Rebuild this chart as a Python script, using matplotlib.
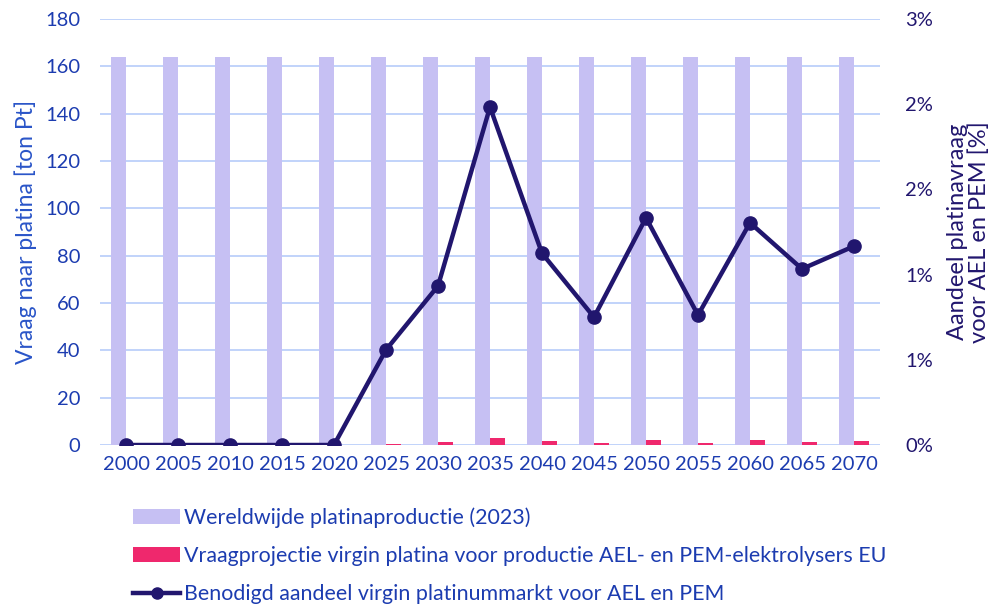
import matplotlib
matplotlib.use("Agg")
import matplotlib.pyplot as plt
import numpy as np
from matplotlib.ticker import FuncFormatter

years = ["2000", "2005", "2010", "2015", "2020", "2025", "2030", "2035",
         "2040", "2045", "2050", "2055", "2060", "2065", "2070"]
world_production = [164] * 15
eu_demand = [0, 0, 0, 0, 0, 0.5, 1.3, 3.0, 1.6, 1.0, 2.0, 1.0, 2.0, 1.3, 1.7]
share_pct = [0, 0, 0, 0, 0, 0.67, 1.12, 2.38, 1.35, 0.90, 1.60, 0.915, 1.565, 1.24, 1.40]

labels = ["Wereldwijde platinaproductie (2023)",
          "Vraagprojectie virgin platina voor productie AEL- en PEM-elektrolysers EU",
          "Benodigd aandeel virgin platinummarkt voor AEL en PEM"]

plt.rcParams['font.family'] = ['Lato', 'DejaVu Sans']

LAV = "#c6c0f3"
PINK = "#ef286d"
NAVY = "#21166e"
BLUE = "#1c3cb0"
LBLUE = "#2a55c8"
GRID = "#bcd0fa"

fig = plt.figure(figsize=(9.89, 6.08), dpi=100)
ax = fig.add_axes([100/989, 1-445/608, 780/989, 426/608])
x = np.arange(len(years))
w = 0.285
b1 = ax.bar(x - w/2, world_production, width=w, color=LAV, zorder=2, label=labels[0])
b2 = ax.bar(x + w/2, eu_demand, width=w, color=PINK, zorder=2, label=labels[1])
ax.set_xlim(-0.5, len(years) - 0.5)
ax.set_ylim(0, 180)
ax.set_yticks(np.arange(0, 181, 20))
ax.set_xticks(x)
ax.set_xticklabels(years)
ax.grid(axis='y', color=GRID, linewidth=1.3, zorder=0)
ax.set_axisbelow(True)
for s in ax.spines.values():
    s.set_visible(False)
ax.tick_params(axis='y', length=0, pad=14, labelsize=14.5, labelcolor=BLUE)
ax.tick_params(axis='x', length=0, pad=8, labelsize=14.5, labelcolor=BLUE)
ax.set_ylabel("Vraag naar platina [ton Pt]", fontsize=16.5, color=LBLUE, labelpad=6)

ax2 = ax.twinx()
l1, = ax2.plot(x, share_pct, color=NAVY, linewidth=3.2, marker='o', markersize=9.5,
               zorder=5, label=labels[2])
ax2.set_ylim(0, 3)
ax2.set_yticks(np.linspace(0, 3, 6))
ax2.yaxis.set_major_formatter(FuncFormatter(lambda v, p: f"{v:.0f}%"))
for s in ax2.spines.values():
    s.set_visible(False)
ax2.tick_params(axis='y', length=0, pad=18, labelsize=14.5, labelcolor=NAVY)
ax2.set_ylabel("Aandeel platinavraag\nvoor AEL en PEM [%]", fontsize=17, color=NAVY,
               labelpad=10, linespacing=1.05)

leg = fig.legend(handles=[b1, b2, l1], labels=labels, loc='upper left',
                 bbox_to_anchor=(114/989, 1-488/608), frameon=False, fontsize=15.4,
                 handlelength=2.2, handletextpad=0.15, labelspacing=0.85)
for t in leg.get_texts():
    t.set_color(BLUE)
leg.legend_handles[2].set_markersize(8)

fig.savefig("out.png", dpi=100)
